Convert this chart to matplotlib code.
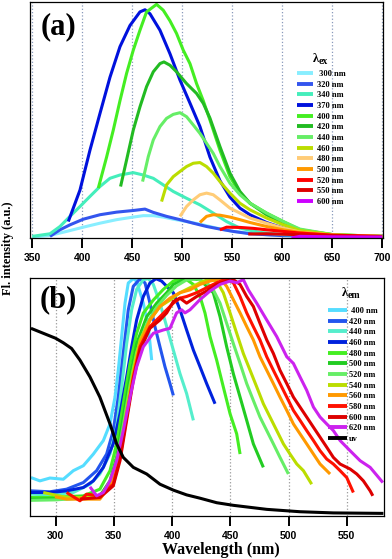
import matplotlib
matplotlib.use("Agg")
import matplotlib.pyplot as plt
import numpy as np

# ---------------- Panel (a): emission spectra at various excitation wavelengths ----------
ex_labels = [" 300 nm", "320 nm", "340 nm", "370 nm", "400 nm", "420 nm", "440 nm",
             "460 nm", "480 nm", "500 nm", "520 nm", "550 nm", "600 nm"]
ex_colors = ["#88eeff", "#3355ee", "#44eebb", "#0011dd", "#44ee22", "#22bb22", "#66ee66",
             "#bbdd00", "#ffcc77", "#ff9900", "#ff0000", "#dd0000", "#cc00ff"]

a300_x = [350, 367.7, 384.3, 401, 417.7, 434.3, 451, 461, 471, 481, 491, 504.3, 517.7, 534.3, 551, 584.3, 617.7, 700]
a300_y = [0, 0.7, 2.4, 4.2, 5.9, 7.4, 8.5, 9.1, 9.1, 8.5, 7.6, 6.6, 5.5, 3.8, 2.4, 1.0, 0.3, 0]

a320_x = [367.7, 377.7, 387.7, 401, 417.7, 434.3, 451, 462.7, 471, 484.3, 497.7, 511, 524.3, 537.7, 551, 567.7, 601, 700]
a320_y = [0.3, 3.1, 5.2, 7.6, 9.5, 10.6, 11.3, 11.9, 10.5, 8.8, 7.4, 5.9, 4.5, 3.4, 2.4, 1.4, 0.6, 0.1]

a340_x = [350, 367.7, 377.7, 387.7, 397.7, 407.7, 417.7, 427.7, 437.7, 451, 461, 471, 481, 491, 504.3, 517.7, 531, 544.3, 557.7, 577.7, 601, 700]
a340_y = [0.3, 1.4, 4.5, 8.8, 13.0, 17.3, 21.5, 25.0, 26.4, 27.4, 26.4, 25.0, 22.2, 19.4, 16.5, 13.7, 10.2, 6.6, 3.8, 2.0, 1.0, 0.1]

a370_x = [386, 397.7, 407.7, 417.7, 427.7, 437.7, 447.7, 457.7, 462.7, 467.7, 477.7, 487.7, 497.7, 507.7, 517.7, 527.7, 537.7, 547.7, 557.7, 567.7, 584.3, 601, 617.7, 651, 700]
a370_y = [6.6, 20.0, 37.0, 52.6, 68.0, 81.0, 90.0, 95.8, 96.7, 95.0, 88.0, 78.0, 66.8, 57.0, 47.0, 34.0, 24.0, 17.0, 12.3, 9.5, 6.2, 3.8, 1.7, 0.6, 0.0]

a400_x = [416, 424.3, 431, 437.7, 444.3, 451, 457.7, 464.3, 474.3, 481, 487.7, 494.3, 501, 507.7, 514.3, 521, 527.7, 537.7, 547.7, 557.7, 567.7, 584.3, 601, 617.7, 634.3, 651, 700]
a400_y = [20.8, 34.0, 45.5, 58.0, 69.6, 79.5, 88.0, 95.8, 99.0, 96.5, 92.0, 86.6, 79.5, 73.8, 65.3, 58.0, 49.8, 37.0, 25.7, 18.7, 14.4, 10.2, 6.6, 3.1, 1.7, 0.8, 0.3]

a420_x = [438.3, 444.3, 451, 457.7, 464.3, 471, 477.7, 481.7, 487.7, 494.3, 504.3, 514.3, 521, 527.7, 537.7, 547.7, 557.7, 567.7, 584.3, 601, 617.7, 651, 700]
a420_y = [21.5, 32.8, 45.5, 55.4, 64.0, 70.3, 73.8, 74.5, 73.1, 70.3, 65.3, 61.1, 56.9, 50.6, 38.5, 27.2, 19.4, 14.4, 9.5, 5.9, 3.1, 1.0, 0.3]

a440_x = [460.3, 466, 471, 477.7, 484.3, 491, 497.7, 504.3, 511, 517.7, 524.3, 531, 537.7, 547.7, 557.7, 567.7, 584.3, 601, 617.7, 651, 700]
a440_y = [23.6, 34.2, 41.3, 47.0, 50.5, 52.2, 52.9, 51.2, 47.7, 44.1, 39.9, 35.6, 30.0, 22.9, 18.0, 14.4, 10.2, 6.6, 3.4, 1.0, 0.3]

a460_x = [479.3, 484.3, 491, 497.7, 504.3, 511, 517.7, 524.3, 531, 537.7, 547.7, 557.7, 567.7, 584.3, 601, 617.7, 651, 700]
a460_y = [15.1, 22.2, 25.7, 27.9, 30.0, 31.4, 31.7, 30.0, 27.2, 23.6, 18.7, 14.4, 11.6, 8.1, 5.2, 2.8, 1.0, 0.3]

a480_x = [497.7, 504.3, 511, 517.7, 524.3, 531, 537.7, 547.7, 557.7, 567.7, 584.3, 601, 617.7, 651, 700]
a480_y = [8.8, 13.0, 15.8, 18.0, 18.7, 18.0, 15.8, 12.3, 10.2, 8.1, 5.9, 3.8, 2.1, 0.8, 0.3]

a500_x = [517.7, 524.3, 531, 537.7, 547.7, 557.7, 567.7, 584.3, 601, 617.7, 651, 700]
a500_y = [6.2, 8.8, 9.5, 9.3, 8.5, 7.4, 6.2, 4.5, 3.1, 2.0, 0.8, 0.2]

a520_x = [537.7, 544.3, 557.7, 571, 584.3, 601, 617.7, 651, 700]
a520_y = [3.1, 4.2, 4.1, 3.7, 3.1, 2.4, 1.7, 0.8, 0.3]

a550_x = [566, 584.3, 617.7, 651, 700]
a550_y = [1.3, 1.4, 1.0, 0.6, 0.1]

a600_x = [609.3, 617.7, 651, 700]
a600_y = [-0.4, 0.3, 0.1, 0.0]

ex_series = [(a300_x, a300_y), (a320_x, a320_y), (a340_x, a340_y), (a370_x, a370_y),
             (a400_x, a400_y), (a420_x, a420_y), (a440_x, a440_y), (a460_x, a460_y),
             (a480_x, a480_y), (a500_x, a500_y), (a520_x, a520_y), (a550_x, a550_y),
             (a600_x, a600_y)]

# ---------------- Panel (b): excitation spectra at various emission wavelengths + UV ------
em_labels = [" 400 nm", "420 nm", "440 nm", "460 nm", "480 nm", "500 nm", "520 nm",
             "540 nm", "560 nm", "580 nm", "600 nm", "620 nm", "uv"]
em_colors = ["#55ddff", "#2255ee", "#55eecc", "#0022dd", "#44ee22", "#22cc22", "#66ee66",
             "#bbdd00", "#ff9900", "#ff1100", "#dd0000", "#cc22ee", "#000000"]

b400_x = [278.8, 286.5, 295.1, 306.6, 315.2, 323.8, 332.4, 341, 346.7, 351, 353.8, 356.7, 359.6, 362.4, 366.7, 369.6, 375.3, 379.6, 382.5]
b400_y = [16.2, 14.8, 16.0, 15.5, 19.1, 21.2, 26.1, 31.8, 38.8, 50.1, 61.4, 75.6, 89.7, 98.2, 100, 99.0, 89.7, 79.8, 65.7]

b420_x = [278.8, 295.1, 309.4, 323.8, 335.2, 343.8, 349.5, 353.8, 358.1, 362.4, 366.7, 372.5, 376.8, 381, 385.3, 389.6, 393.9, 398.2, 401.1]
b420_y = [10.6, 10.2, 11.3, 14.1, 19.1, 26.1, 36.0, 50.1, 68.5, 86.9, 96.8, 100, 98.2, 89.7, 79.8, 71.3, 62.9, 55.8, 50.8]

b440_x = [278.8, 295.1, 315.2, 329.5, 338, 346.7, 352.4, 356.7, 361, 365.3, 369.6, 375.3, 379.6, 383.9, 389.6, 395.4, 401.1, 406.8, 412.5, 418.3]
b440_y = [9.2, 8.9, 9.9, 13.4, 17.7, 26.1, 37.4, 54.4, 72.6, 86.9, 95.5, 99.6, 100, 97.6, 89.7, 79.8, 69.9, 60.0, 51.6, 40.3]

b460_x = [278.8, 295.1, 309.4, 323.8, 332.4, 341, 349.5, 355.3, 361, 365.3, 369.6, 375.3, 381, 386.2, 391, 395.4, 401.1, 406.8, 412.5, 418.3, 424, 429.7, 436.9]
b460_y = [9.9, 9.9, 10.6, 12.0, 14.8, 20.5, 30.4, 43.1, 58.6, 71.3, 82.7, 92.5, 98.2, 100, 99.0, 96.8, 94.1, 86.9, 78.4, 69.9, 62.9, 55.8, 47.3]

b480_x = [278.8, 295.1, 323.8, 338, 346.7, 352.4, 358.1, 363.9, 369.6, 375.3, 383.9, 392.5, 401.1, 406.8, 412.5, 418.3, 424, 428.3, 432.6, 438.3, 444, 449.8, 455.5, 458.4]
b480_y = [7.8, 7.8, 8.5, 11.3, 19.1, 30.4, 47.3, 64.3, 77.0, 85.5, 91.0, 95.5, 99.0, 100, 99.6, 97.6, 92.5, 85.5, 75.6, 65.7, 54.4, 43.1, 34.6, 26.1]

b500_x = [278.8, 300, 338, 346.7, 352.4, 358.1, 363.9, 369.6, 378.2, 386.8, 395.4, 401.1, 409.7, 415.4, 424, 429.7, 435.4, 441.2, 446.9, 452.6, 458.4, 464.1, 469.8, 478.4]
b500_y = [7.1, 7.3, 8.5, 14.8, 24.7, 41.7, 58.6, 72.6, 84.0, 89.7, 94.1, 97.6, 99.6, 100, 99.6, 96.8, 94.1, 84.0, 71.3, 60.0, 50.1, 40.3, 30.4, 20.5]

b520_x = [278.8, 300, 338, 346.7, 352.4, 358.1, 363.9, 369.6, 378.2, 386.8, 395.4, 403.9, 412.5, 421.1, 429.7, 435.4, 441.2, 446.9, 452.6, 458.4, 464.1, 469.8, 475.5, 481.3, 487, 492.7, 499.9]
b520_y = [6.6, 6.8, 8.0, 13.5, 23.0, 38.0, 55.0, 69.0, 81.0, 88.0, 93.0, 97.0, 99.5, 100, 98.3, 95.3, 89.7, 81.2, 72.7, 64.3, 55.8, 48.7, 41.7, 36.0, 30.4, 24.7, 17.7]

b540_x = [289.4, 309.4, 338, 349.5, 355.3, 361, 366.7, 372.5, 381, 389.6, 398.2, 406.8, 415.4, 424, 432.6, 438.3, 444, 449.8, 455.5, 461.2, 467, 472.7, 478.4, 484.1, 489.9, 495.6, 501.3, 507.1, 512.8, 519.9]
b540_y = [9.9, 7.8, 7.8, 16.2, 27.5, 44.5, 61.4, 74.2, 82.6, 88.3, 91.0, 94.1, 96.2, 98.3, 100, 99.0, 94.1, 85.6, 77.0, 68.5, 61.4, 54.4, 47.3, 41.7, 36.0, 30.4, 26.1, 21.9, 19.1, 13.4]

b560_x = [299.4, 309.4, 338, 349.5, 355.3, 361, 366.7, 372.5, 381, 389.6, 398.2, 406.8, 415.4, 424, 432.6, 441.2, 446.9, 452.6, 458.4, 464.1, 469.8, 475.5, 481.3, 487, 492.7, 498.5, 504.2, 509.9, 515.6, 521.4, 527.1, 535.7]
b560_y = [8.1, 7.1, 7.1, 14.8, 26.1, 43.1, 58.6, 72.6, 82.6, 88.3, 91.8, 94.1, 95.3, 97.6, 99.0, 100, 96.8, 91.2, 85.6, 79.8, 74.2, 67.1, 61.4, 55.8, 50.1, 44.5, 38.8, 34.6, 30.4, 26.1, 21.9, 17.7]

b580_x = [309.4, 320.9, 326.6, 338, 349.5, 355.3, 361, 366.7, 372.5, 381, 389.6, 395.4, 401.1, 406.8, 412.5, 421.1, 429.7, 438.3, 446.9, 452.6, 458.4, 464.1, 469.8, 475.5, 481.3, 487, 492.7, 498.5, 504.2, 509.9, 515.6, 521.4, 527.1, 532.8, 538.5, 544.3, 550, 555.7]
b580_y = [9.9, 6.4, 9.2, 8.5, 13.4, 24.7, 41.7, 58.6, 71.3, 79.8, 84.0, 86.9, 89.7, 91.8, 92.5, 94.1, 96.2, 98.3, 100, 98.3, 92.5, 85.6, 79.8, 74.2, 67.1, 61.4, 55.8, 50.1, 44.5, 40.3, 36.0, 31.8, 27.5, 24.0, 21.9, 19.1, 16.2, 9.9]

b600_x = [320.9, 338, 349.5, 355.3, 361, 366.7, 372.5, 381, 389.6, 395.4, 401.1, 406.8, 412.5, 421.1, 429.7, 438.3, 446.9, 452.6, 458.4, 464.1, 469.8, 475.5, 481.3, 487, 492.7, 498.5, 504.2, 509.9, 515.6, 521.4, 527.1, 532.8, 538.5, 544.3, 552.9, 558.6, 564.3, 570.1, 572.4]
b600_y = [7.1, 7.8, 12.7, 23.3, 40.3, 57.2, 69.9, 79.1, 82.6, 85.6, 90.4, 91.8, 89.7, 92.5, 94.8, 97.6, 99.0, 99.6, 97.6, 92.5, 88.3, 81.2, 74.2, 68.5, 61.4, 55.8, 50.1, 45.9, 41.7, 37.4, 33.2, 29.0, 24.7, 21.9, 19.8, 17.7, 14.8, 10.6, 8.5]

b620_x = [329.5, 335.2, 341, 346.7, 352.4, 358.1, 363.9, 369.6, 375.3, 383.9, 392.5, 398.2, 403.9, 408.2, 411.1, 415.4, 424, 432.6, 441.2, 449.8, 455.5, 461.2, 465.5, 472.7, 481.3, 489.9, 498.5, 504.2, 509.9, 515.6, 521.4, 527.1, 532.8, 538.5, 544.3, 552.9, 561.5, 570.1, 581]
b620_y = [12.3, 8.5, 9.9, 14.8, 23.3, 36.0, 50.1, 62.9, 71.3, 77.0, 78.4, 79.1, 85.6, 86.9, 85.6, 86.9, 91.2, 94.8, 97.6, 99.0, 98.3, 99.6, 95.3, 89.7, 82.6, 75.6, 67.1, 64.3, 58.6, 53.0, 45.9, 41.7, 38.8, 36.0, 31.8, 27.5, 23.3, 20.5, 14.1]

buv_x = [278.8, 289.4, 300, 306.6, 313.7, 320.9, 329.5, 338, 346.7, 352.4, 358.1, 366.7, 378.2, 389.6, 401.1, 412.5, 424, 438.3, 452.6, 481.3, 509.9, 538.5, 581.5]
buv_y = [79.1, 77.0, 74.9, 73.0, 70.6, 65.7, 58.6, 50.1, 38.8, 30.4, 24.7, 20.5, 17.7, 13.4, 10.9, 8.9, 7.5, 5.6, 4.5, 2.8, 1.8, 1.3, 1.1]

em_series = [(b400_x, b400_y), (b420_x, b420_y), (b440_x, b440_y), (b460_x, b460_y),
             (b480_x, b480_y), (b500_x, b500_y), (b520_x, b520_y), (b540_x, b540_y),
             (b560_x, b560_y), (b580_x, b580_y), (b600_x, b600_y), (b620_x, b620_y),
             (buv_x, buv_y)]

xticks_a = [350, 400, 450, 500, 550, 600, 650, 700]
xticks_b = [300, 350, 400, 450, 500, 550]

# ---------------- Figure -----------------
W, H = 392, 559
fig = plt.figure(figsize=(W / 100, H / 100), dpi=100)

def rect(l, t, r, b):
    return [l / W, 1 - b / H, (r - l) / W, (b - t) / H]

axa = fig.add_axes(rect(30, 2, 383, 238))
axb = fig.add_axes(rect(30, 278, 384, 516))

LW = 2.2
serif_bold = dict(family="Liberation Serif", weight="bold")

for (x, y), c, lab in zip(ex_series, ex_colors, ex_labels):
    axa.plot(x, y, color=c, lw=LW, label=lab, solid_capstyle="butt")
for (x, y), c, lab in zip(em_series, em_colors, em_labels):
    axb.plot(x, y, color=c, lw=LW, label=lab, solid_capstyle="butt")

axa.set_xlim(347.7, 700.8)
axa.set_ylim(-0.4, 100)
axb.set_xlim(278, 582)
axb.set_ylim(0, 100.3)

for ax, ticks, gcol in ((axa, xticks_a, "#8899bb"), (axb, xticks_b, "#999999")):
    ax.set_xticks(ticks)
    ax.set_yticks([])
    ax.tick_params(axis="x", direction="out", length=7, width=1.4, pad=4,
                   labelsize=7.5)
    for lbl in ax.get_xticklabels():
        lbl.set_fontfamily("Liberation Sans")
        lbl.set_fontweight("bold")
    ax.grid(axis="x", linestyle=":", color=gcol, lw=0.9)
    for s in ax.spines.values():
        s.set_linewidth(0.9)

# legends
la = axa.legend(loc="upper left", bbox_to_anchor=(0.756, 0.712), frameon=False,
                prop=dict(family="Liberation Serif", weight="bold", size=6),
                handlelength=1.9, handletextpad=0.55, labelspacing=0.32,
                borderpad=0, borderaxespad=0)
lb = axb.legend(loc="upper left", bbox_to_anchor=(0.842, 0.878), frameon=False,
                prop=dict(family="Liberation Serif", weight="bold", size=6),
                handlelength=2.3, handletextpad=0.2, labelspacing=0.32,
                borderpad=0, borderaxespad=0)
for leg in (la, lb):
    for l in leg.get_lines():
        l.set_linewidth(2.8)

# legend titles (lambda with subscript)
fig.text(313 / W, 1 - 62 / H, "λ", fontsize=9, **serif_bold)
fig.text(319 / W, 1 - 64 / H, "ex", fontsize=7, **serif_bold)
fig.text(342 / W, 1 - 296 / H, "λ", fontsize=9, **serif_bold)
fig.text(348 / W, 1 - 298 / H, "em", fontsize=7, **serif_bold)

# panel letters
fig.text(58 / W, 1 - 27 / H, "(a)", fontsize=22, ha="center", va="center", **serif_bold)
fig.text(58 / W, 1 - 300 / H, "(b)", fontsize=22, ha="center", va="center", **serif_bold)

# axis labels
fig.text(8 / W, 1 - 248 / H, "Fl. intensity (a.u.)", rotation=90, fontsize=9,
         ha="center", va="center", **serif_bold)
fig.text(221 / W, 1 - 550 / H, "Wavelength (nm)", fontsize=11.5,
         ha="center", va="center", **serif_bold)

fig.savefig("out.png", dpi=100)
